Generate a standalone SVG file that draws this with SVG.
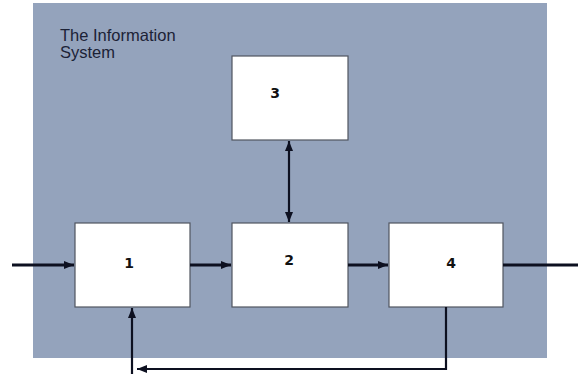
<svg xmlns="http://www.w3.org/2000/svg" width="583" height="374" viewBox="0 0 583 374">
<defs>
<marker id="ah" viewBox="0 0 10 8" refX="10" refY="4" markerWidth="10" markerHeight="8" markerUnits="userSpaceOnUse" orient="auto-start-reverse">
<path d="M0,0 L10,4 L0,8 z" fill="#0d1020"/>
</marker>
<style>
.box{fill:#ffffff;stroke:#505560;stroke-width:1.2}
.lbl{font-family:"DejaVu Sans","Liberation Sans",sans-serif;font-weight:bold;font-size:14px;fill:#111;text-anchor:middle}
.ln{stroke:#0d1020;stroke-width:3;fill:none}
.thin{stroke:#0d1020;stroke-width:2.2;fill:none}
</style>
</defs>
<rect x="0" y="0" width="583" height="374" fill="#ffffff"/>
<rect x="33" y="3" width="514" height="355" fill="#94a3bc"/>
<text font-family="Liberation Sans, Arial, sans-serif" font-size="16.5" fill="#1c2236"><tspan x="60" y="41">The Information</tspan><tspan x="60" y="58">System</tspan></text>
<g id="node1"><rect class="box" x="75" y="223" width="115" height="84"/><text class="lbl" x="129" y="268">1</text></g>
<g id="node2"><rect class="box" x="232" y="223" width="116" height="84"/><text class="lbl" x="289" y="265">2</text></g>
<g id="node3"><rect class="box" x="232" y="56" width="116" height="84"/><text class="lbl" x="275" y="98">3</text></g>
<g id="node4"><rect class="box" x="389" y="223" width="114" height="84"/><text class="lbl" x="451" y="268">4</text></g>
<g id="connectors">
<line class="ln" x1="12" y1="265" x2="74" y2="265" marker-end="url(#ah)"/>
<line class="ln" x1="190" y1="265" x2="231" y2="265" marker-end="url(#ah)"/>
<line class="ln" x1="348" y1="265" x2="388" y2="265" marker-end="url(#ah)"/>
<line class="ln" x1="503" y1="265" x2="578" y2="265"/>
<line class="thin" x1="289" y1="141" x2="289" y2="222" marker-start="url(#ah)" marker-end="url(#ah)"/>
<polyline class="thin" points="446,307 446,369 137,369" marker-end="url(#ah)"/>
<line class="thin" x1="132" y1="374" x2="132" y2="308" marker-end="url(#ah)"/>
</g>
</svg>
